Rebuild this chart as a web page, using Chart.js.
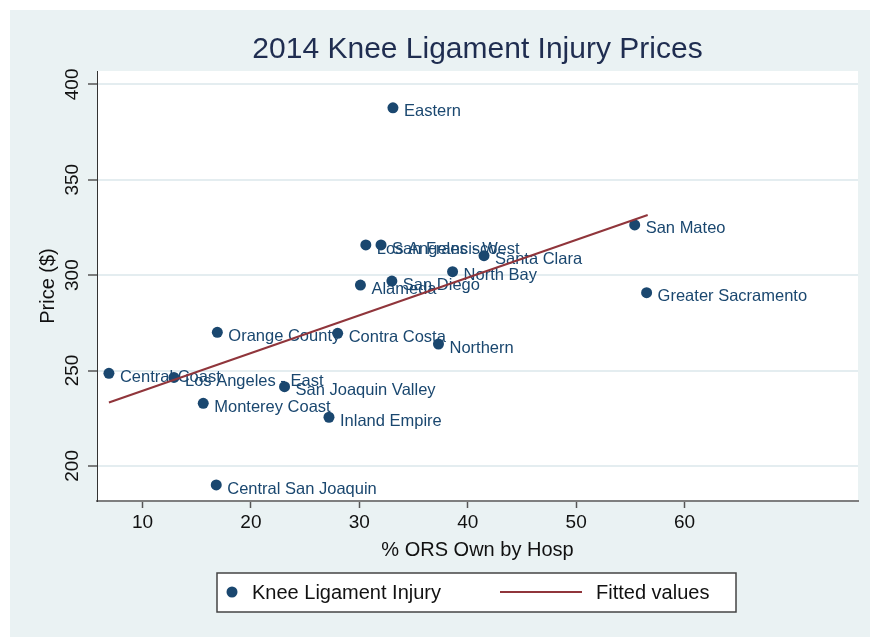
<!DOCTYPE html>
<html>
<head>
<meta charset="utf-8">
<script src="https://cdn.jsdelivr.net/npm/chart.js@4"></script>
<style>
  html, body { margin: 0; padding: 0; background: #fff; }
  #wrap { width: 870px; height: 637px; }
</style>
</head>
<body>
<div id="wrap"><canvas id="kneeChart"></canvas></div>
<script>
// values
const regions = ['Eastern', 'San Mateo', 'Los Angeles - West', 'San Francisco', 'Santa Clara',
  'North Bay', 'San Diego', 'Alameda', 'Greater Sacramento', 'Orange County', 'Contra Costa',
  'Northern', 'Central Coast', 'Los Angeles - East', 'San Joaquin Valley', 'Monterey Coast',
  'Inland Empire', 'Central San Joaquin'];
const orsShare = [33.1, 55.4, 30.6, 32.0, 41.5, 38.6, 33.0, 30.1, 56.5, 16.9, 28.0, 37.3, 6.9, 12.9, 23.1, 15.6, 27.2, 16.8];
const prices = [387.7, 326.3, 315.8, 315.8, 310.2, 301.8, 296.9, 294.8, 290.8, 270.0, 269.5, 263.9, 248.5, 246.4, 241.5, 232.8, 225.5, 190.0];
const fitX = [6.9, 56.6];
const fitY = [233.2, 331.5];
const xTicks = [10, 20, 30, 40, 50, 60];
const yTicks = [200, 250, 300, 350, 400];

const FONT = "'Liberation Sans', Arial, Helvetica, sans-serif";
const NAVY = '#1a476f';
const MAROON = '#90353b';

const backdrop = {
  id: 'backdrop',
  beforeDraw(chart) {
    const { ctx, chartArea: a, width, height } = chart;
    ctx.save();
    ctx.fillStyle = '#ffffff';
    ctx.fillRect(0, 0, width, height);
    ctx.fillStyle = '#eaf2f3';
    ctx.fillRect(10, 10, width - 10, height - 10);
    ctx.fillStyle = '#ffffff';
    ctx.fillRect(a.left, a.top, a.right - a.left, a.bottom - a.top);
    ctx.restore();
  }
};

// chart title, centred over the plot region
const plotTitle = {
  id: 'plotTitle',
  afterDraw(chart) {
    const { ctx, chartArea: a } = chart;
    ctx.save();
    ctx.font = '30px ' + FONT;
    ctx.fillStyle = '#1f2d50';
    ctx.textAlign = 'center';
    ctx.textBaseline = 'middle';
    ctx.fillText('2014 Knee Ligament Injury Prices', (a.left + a.right) / 2, 50);
    ctx.restore();
  }
};

// y tick labels are vertical in the original
const yTickLabels = {
  id: 'yTickLabels',
  afterDraw(chart) {
    const { ctx } = chart;
    const s = chart.scales.y;
    ctx.save();
    ctx.font = '19px ' + FONT;
    ctx.fillStyle = '#111';
    ctx.textAlign = 'center';
    ctx.textBaseline = 'middle';
    s.ticks.forEach(t => {
      const py = s.getPixelForValue(t.value);
      ctx.save();
      ctx.translate(73, py);
      ctx.rotate(-Math.PI / 2);
      ctx.fillText(String(t.value), 0, 0);
      ctx.restore();
    });
    ctx.restore();
  }
};

// marker labels go under the dots (dots cover overlapping text, as in the original)
const pointLabels = {
  id: 'pointLabels',
  beforeDatasetDraw(chart, args) {
    if (args.index !== 0) return;
    const { ctx } = chart;
    ctx.save();
    ctx.font = '16.5px ' + FONT;
    ctx.fillStyle = NAVY;
    ctx.textAlign = 'left';
    ctx.textBaseline = 'middle';
    args.meta.data.forEach((pt, i) => {
      ctx.fillText(regions[i], pt.x + 11, pt.y + 4);
    });
    ctx.restore();
  }
};

const boxLegend = {
  id: 'boxLegend',
  afterDraw(chart) {
    const { ctx } = chart;
    const ds = chart.data.datasets;
    ctx.save();
    ctx.fillStyle = '#ffffff';
    ctx.fillRect(217, 573, 519, 39);
    ctx.strokeStyle = '#444';
    ctx.lineWidth = 1.5;
    ctx.strokeRect(217, 573, 519, 39);
    ctx.fillStyle = NAVY;
    ctx.beginPath();
    ctx.arc(232, 592, 5.5, 0, Math.PI * 2);
    ctx.fill();
    ctx.strokeStyle = MAROON;
    ctx.lineWidth = 2;
    ctx.beginPath();
    ctx.moveTo(500, 592);
    ctx.lineTo(582, 592);
    ctx.stroke();
    ctx.font = '20px ' + FONT;
    ctx.fillStyle = '#111';
    ctx.textBaseline = 'middle';
    ctx.fillText(ds[0].label, 252, 593);
    ctx.fillText(ds[1].label, 596, 593);
    ctx.restore();
  }
};

new Chart(document.getElementById('kneeChart'), {
  type: 'scatter',
  data: {
    datasets: [{
      label: 'Knee Ligament Injury',
      data: orsShare.map((x, i) => ({ x, y: prices[i] })),
      backgroundColor: NAVY,
      borderColor: NAVY,
      borderWidth: 0,
      pointRadius: 5.5,
      order: 2
    }, {
      label: 'Fitted values',
      data: fitX.map((x, i) => ({ x, y: fitY[i] })),
      showLine: true,
      borderColor: MAROON,
      borderWidth: 2,
      pointRadius: 0,
      order: 1
    }]
  },
  options: {
    responsive: true,
    maintainAspectRatio: false,
    animation: false,
    layout: { padding: { left: 10, right: 12, top: 71, bottom: 66 } },
    plugins: { legend: { display: false }, tooltip: { enabled: false } },
    scales: {
      x: {
        type: 'linear',
        min: 5.8,
        max: 76,
        afterBuildTicks: s => { s.ticks = xTicks.map(v => ({ value: v })); },
        afterFit: s => { s.height = 70; },
        grid: { drawOnChartArea: false, tickLength: 7, tickColor: '#555', tickWidth: 1.5 },
        border: { color: '#7f7f7f', width: 2 },
        ticks: { color: '#111', font: { size: 19, family: FONT }, padding: 3 },
        title: {
          display: true, text: '% ORS Own by Hosp', color: '#111',
          font: { size: 20, family: FONT }, padding: { top: 0, bottom: 9 }
        }
      },
      y: {
        type: 'linear',
        min: 181.6,
        max: 407,
        afterBuildTicks: s => { s.ticks = yTicks.map(v => ({ value: v })); },
        afterFit: s => { s.width = 87; },
        grid: { color: '#e4edf0', lineWidth: 2, tickLength: 9, tickColor: '#555', tickWidth: 1.5 },
        border: { color: '#333', width: 1 },
        ticks: { display: false },
        title: {
          display: true, text: 'Price ($)', color: '#111',
          font: { size: 20, family: FONT }, padding: { top: 26, bottom: 0 }
        }
      }
    }
  },
  plugins: [backdrop, pointLabels, plotTitle, yTickLabels, boxLegend]
});
</script>
</body>
</html>
